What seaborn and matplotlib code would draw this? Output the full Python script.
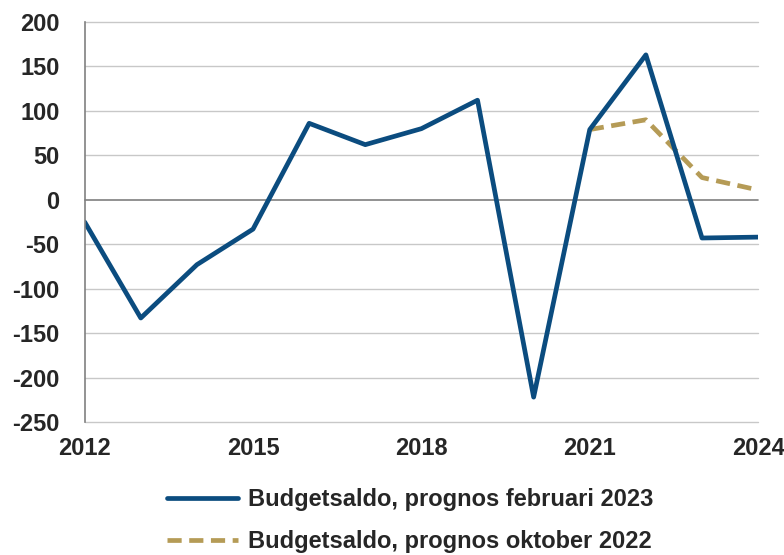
import matplotlib
matplotlib.use("Agg")
import matplotlib.pyplot as plt
import seaborn as sns
import pandas as pd

years = list(range(2012, 2025))
saldo_feb23 = [-25, -133, -73, -33, 86, 62, 80, 112, -222, 79, 163, -43, -42]
years_okt22 = [2021, 2022, 2023, 2024]
saldo_okt22 = [79, 90, 25, 11]

label_feb = "Budgetsaldo, prognos februari 2023"
label_okt = "Budgetsaldo, prognos oktober 2022"

sns.set_style("white")
plt.rcParams['font.family'] = ['Liberation Sans', 'DejaVu Sans']
plt.rcParams['font.weight'] = 'bold'
plt.rcParams['axes.unicode_minus'] = False

df_feb = pd.DataFrame({'year': years, 'value': saldo_feb23})
df_okt = pd.DataFrame({'year': years_okt22, 'value': saldo_okt22})

fig = plt.figure(figsize=(7.84, 5.55), dpi=100)
ax = fig.add_axes([0.108, 0.2396, 0.859, 0.7208])

# grid lines, zero line darker
for v in range(-250, 201, 50):
    ax.axhline(v, color='#7f7f7f' if v == 0 else '#c8c8c8', lw=1.2 if v == 0 else 1.0,
               zorder=0, clip_on=False)

dash = (0, (3.0, 1.6))
sns.lineplot(data=df_feb, x='year', y='value', ax=ax, color='#0b4c7f', lw=3.4,
             label=label_feb)
sns.lineplot(data=df_okt, x='year', y='value', ax=ax, color='#b59b56', lw=3.4,
             label=label_okt, zorder=1)
ax.lines[-1].set_linestyle(dash)

ax.set_xlim(2012, 2024)
ax.set_ylim(-250, 200)
ax.set_xticks([2012, 2015, 2018, 2021, 2024])
ax.set_yticks(range(-250, 201, 50))
ax.set_xlabel('')
ax.set_ylabel('')
ax.tick_params(axis='both', length=0, labelsize=17)
ax.tick_params(axis='x', pad=11)
ax.tick_params(axis='y', pad=18)
for lab in ax.get_xticklabels() + ax.get_yticklabels():
    lab.set_fontweight('bold')

for s in ['top', 'right', 'bottom']:
    ax.spines[s].set_visible(False)
ax.spines['left'].set_color('#808080')
ax.spines['left'].set_linewidth(1.2)

leg = ax.legend(loc='upper center', bbox_to_anchor=(0.483, -0.113), ncol=1, frameon=False,
                fontsize=17, handlelength=3.0, handletextpad=0.42, labelspacing=0.78)
for t in leg.get_texts():
    t.set_fontweight('bold')
leg.get_lines()[1].set_linestyle(dash)

fig.savefig('out.png', dpi=100)
